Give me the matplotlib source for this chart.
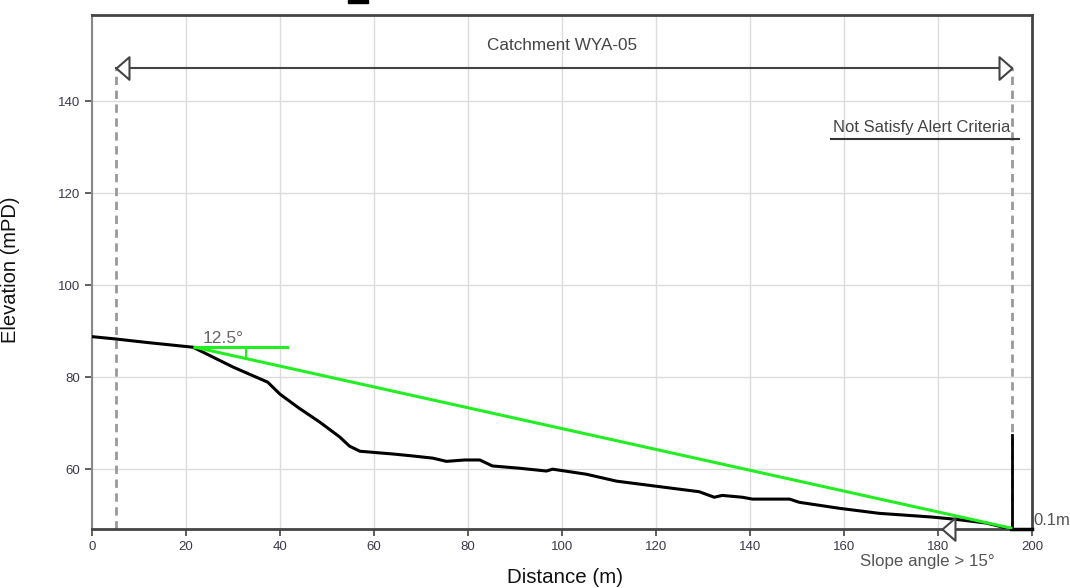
import matplotlib.pyplot as plt
from matplotlib.patches import Rectangle

plt.rcParams['font.family'] = ['Liberation Sans', 'DejaVu Sans']

# ground profile
dist = [0, 5, 12, 21.5, 30, 37.4, 40, 44, 48.5, 52.7, 54.8, 57, 64, 68, 72.5,
        75.4, 79.3, 82.5, 85.2, 91, 96.7, 98, 105.2, 111.6, 120, 129.2, 132.4,
        134.1, 138.4, 140.5, 148.4, 150.5, 159, 167.5, 178.7, 183.8, 190.2, 195.5]
elev = [88.8, 88.3, 87.5, 86.5, 82.2, 78.9, 76.3, 73.3, 70.2, 67, 65, 63.9,
        63.3, 62.9, 62.4, 61.7, 62, 62, 60.7, 60.2, 59.6, 60, 58.9, 57.4, 56.3,
        55.1, 53.9, 54.3, 53.9, 53.5, 53.5, 52.8, 51.5, 50.4, 49.6, 49.1, 48.3, 47]

# slope line (green)
slope_x = [21.9, 195.5]
slope_y = [86.5, 47.2]
horiz_x = [21.9, 41.4]
angle_tick_x = 32.7
angle_tick_y = [86.5, 84.3]
angle_label = '12.5°'

# catchment limits
catch_left = 5.1
catch_right = 195.7
catch_y = 147.2
catch_label = 'Catchment WYA-05'
bar_top = 67.4
y_min, y_max = 47, 158.7
slope15_x = 180.9

xticks = [0, 20, 40, 60, 80, 100, 120, 140, 160, 180, 200]
yticks = [60, 80, 100, 120, 140]

fig = plt.figure(figsize=(10.7, 5.88), dpi=100)
ax = fig.add_axes([92/1070, 1-529/588, 940/1070, 514/588])

ax.set_xlim(0, 200)
ax.set_ylim(y_min, y_max)
ax.set_xticks(xticks)
ax.set_yticks(yticks)
ax.grid(True, color='#dcdcdc', lw=1)
ax.set_axisbelow(True)
ax.tick_params(direction='out', length=5, width=1.2, color='#444444',
               labelsize=9.5, labelcolor='#3a3a4a')

for s in ['top', 'right', 'bottom']:
    ax.spines[s].set_color('#444444')
    ax.spines[s].set_linewidth(2)
ax.spines['left'].set_color('#888888')
ax.spines['left'].set_linewidth(1.5)

ax.set_xlabel('Distance (m)', fontsize=14.8, color='#111111')
ax.set_ylabel('Elevation (mPD)', fontsize=14.5, color='#111111')
ax.xaxis.set_label_coords(0.503, -0.075)
ax.yaxis.set_label_coords(-0.077, 0.505)

# dashed catchment boundaries
dash = dict(color='#999999', lw=2, ls=(0, (3, 2)), zorder=2)
ax.plot([catch_left, catch_left], [y_min, catch_y], **dash)
ax.plot([catch_right, catch_right], [y_min, catch_y], **dash)

# double arrow
head = [(0, 0), (1.15, -1), (1.15, 1), (0, 0)]
head_r = [(-x, y) for x, y in head]
ax.plot([catch_left, catch_right], [catch_y, catch_y], color='#444444', lw=1.5, zorder=3)
ax.plot([catch_left], [catch_y], marker=head, ms=18.7, mfc='white', mec='#444444',
        mew=1.5, zorder=4)
ax.plot([catch_right], [catch_y], marker=head_r, ms=18.7, mfc='white', mec='#444444',
        mew=1.5, zorder=4)
ax.text(100.1, 151.1, catch_label, ha='center', va='baseline', fontsize=12.3,
        color='#444444')

ax.text(195.5, 133.3, 'Not Satisfy Alert Criteria', ha='right', va='baseline',
        fontsize=12, color='#444444')
ax.plot([157.3, 197.2], [131.7, 131.7], color='#333333', lw=1.5)

# profile
ax.plot(dist, elev, color='black', lw=2.2, zorder=5, solid_capstyle='round')
ax.plot([catch_right, catch_right], [y_min, bar_top], color='black', lw=2, zorder=5)
ax.plot([catch_right - 0.2, 200], [y_min, y_min], color='black', lw=2.5, zorder=6,
        clip_on=False)

# slope line
green = '#22ee22'
ax.plot(slope_x, slope_y, color=green, lw=2.2, zorder=6)
ax.plot(horiz_x, [slope_y[0], slope_y[0]], color=green, lw=2.2, zorder=6)
ax.plot([angle_tick_x, angle_tick_x], angle_tick_y, color=green, lw=1.5, zorder=6)
ax.text(23.6, 87.4, angle_label, ha='left', va='baseline', fontsize=12.6,
        color='#666666')

# slope > 15 marker
ax.plot([slope15_x], [y_min], marker=head, ms=18.7, mfc='white', mec='#444444',
        mew=1.5, zorder=7, clip_on=False)
ax.text(177.8, 38.9, 'Slope angle > 15°', ha='center', va='baseline', fontsize=12.2,
        color='#555555', clip_on=False)
ax.text(200.3, 47.8, '0.1m', ha='left', va='baseline', fontsize=12,
        color='#555555', clip_on=False)

# clipped title remnant at top
fig.patches.append(Rectangle((348/1070, 1-2.5/588), 20/1070, 2.5/588,
                             transform=fig.transFigure, color='black'))

fig.savefig('out.png', dpi=100)
